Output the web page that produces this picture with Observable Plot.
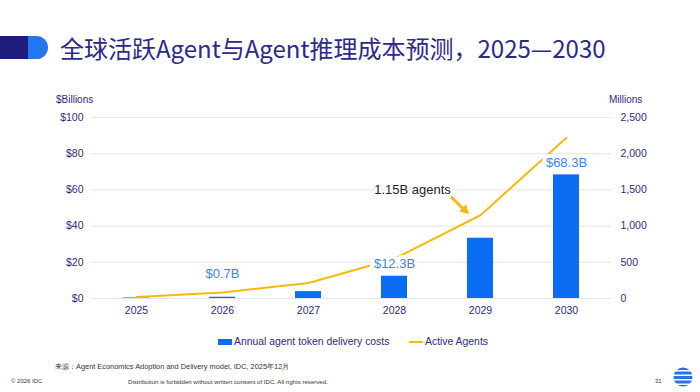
<!DOCTYPE html>
<html>
<head>
<meta charset="utf-8">
<script src="https://cdn.jsdelivr.net/npm/d3@7"></script>
<script src="https://cdn.jsdelivr.net/npm/@observablehq/plot@0.6"></script>
<style>
  html, body { margin: 0; padding: 0; }
  body { width: 700px; height: 392px; overflow: hidden; position: relative; background: #fff;
         font-family: "Liberation Sans", Arial, sans-serif; color: #2b2b83; }
  .abs { position: absolute; white-space: nowrap; }
  #pillBlue { left: 0; top: 36px; width: 48px; height: 23px; border-radius: 12px; background: #2277f0; }
  #pillNavy { left: 0; top: 36px; width: 28px; height: 23px; background: #1f1d7c; }
  #title { left: 60px; top: 33px; font-family: "Noto Sans CJK SC", sans-serif; font-size: 24px; line-height: 30px; color: #2c2a88; }
  #chart { position: absolute; left: 0; top: 80px; }
  .unit { font-size: 10px; line-height: 12px; top: 94px; color: #2b2b83; }
  .leg { font-size: 10.4px; line-height: 12px; top: 336px; color: #2b2b83; }
  .src { font-family: "Liberation Sans Narrow", "Liberation Sans", Arial, sans-serif; color: #333; }
</style>
</head>
<body>
<div id="pillBlue" class="abs"></div>
<div id="pillNavy" class="abs"></div>
<div id="title" class="abs">全球活跃Agent与Agent推理成本预测，2025—2030</div>
<div class="abs unit" style="left:56px">$Billions</div>
<div class="abs unit" style="left:609px">Millions</div>
<div id="chart"></div>
<div class="abs" style="left:218px;top:339px;width:14px;height:6px;background:#0b6cf4"></div>
<div class="abs leg" style="left:234px">Annual agent token delivery costs</div>
<div class="abs" style="left:409px;top:341px;width:14px;height:2px;background:#f9b90c"></div>
<div class="abs leg" style="left:425px">Active Agents</div>
<div class="abs src" style="left:55px;top:362px;font-size:7.4px;">来源：Agent Economics Adoption and Delivery model, IDC, 2025年12月</div>
<div class="abs src" style="left:11px;top:378px;font-size:6px;">© 2026 IDC</div>
<div class="abs src" style="left:128px;top:378px;font-size:6.1px;">Distribution is forbidden without written consent of IDC. All rights reserved.</div>
<div class="abs src" style="left:655px;top:378px;font-size:6px;">31</div>
<svg class="abs" style="left:673px;top:367px" width="20" height="20" viewBox="0 0 20 20">
  <defs><clipPath id="c"><circle cx="10" cy="10" r="9.5"/></clipPath></defs>
  <g clip-path="url(#c)" fill="#2f6fe6">
    <rect x="0" y="0" width="20" height="3"/>
    <rect x="0" y="4.5" width="20" height="3"/>
    <rect x="0" y="9" width="20" height="3"/>
    <rect x="0" y="13.5" width="20" height="3"/>
    <rect x="0" y="18" width="20" height="2"/>
  </g>
</svg>
<script>
// ---- data ----
const years = ["2025", "2026", "2027", "2028", "2029", "2030"];
const costs = [0.3, 0.7, 3.8, 12.3, 33.3, 68.3];          // $ billions
const agents = [22, 83, 215, 550, 1150, 2220];             // millions
const leftTicks = [0, 20, 40, 60, 80, 100];
const rightTicks = [0, 500, 1000, 1500, 2000, 2500];
const costLabelYears = ["2026", "2028", "2030"];
const costLabelTexts = ["$0.7B", "$12.3B", "$68.3B"];
const agentNoteYear = "2029";
const agentNoteText = "1.15B agents";

const ratio = rightTicks[rightTicks.length - 1] / leftTicks[leftTicks.length - 1]; // 25

const rows = years.map((y, i) => ({year: y, cost: costs[i], agents: agents[i]}));
const labelRows = costLabelYears.map((y, i) => ({year: y, cost: costs[years.indexOf(y)], text: costLabelTexts[i]}));
const noteRow = rows.filter(d => d.year === agentNoteYear).map(d => ({...d, text: agentNoteText}));

const navy = "#2b2b83";
const blue = "#0b6cf4";
const gold = "#f9b90c";

const arrowMark = (index, scales, values, dims) => {
  const sx = scales.x, sy = scales.y;
  let px = sx(agentNoteYear);
  if (typeof sx.bandwidth === "function") px += sx.bandwidth() / 2;
  else if (typeof sx.bandwidth === "number") px += sx.bandwidth / 2;
  const py = sy(noteRow[0].agents / ratio);
  const g = d3.create("svg:g");
  const x1 = px - 29, y1 = py - 18, x2 = px - 16, y2 = py - 5;
  g.append("line").attr("x1", x1).attr("y1", y1).attr("x2", x2).attr("y2", y2)
    .attr("stroke", gold).attr("stroke-width", 3);
  const ang = Math.atan2(y2 - y1, x2 - x1);
  const tipx = px - 11, tipy = py - 0.5;
  const L = 9, W = 5;
  const bx = tipx - L * Math.cos(ang), by = tipy - L * Math.sin(ang);
  const pts = [[tipx, tipy], [bx + W * Math.sin(ang), by - W * Math.cos(ang)], [bx - W * Math.sin(ang), by + W * Math.cos(ang)]];
  g.append("path").attr("d", "M" + pts.map(p => p.join(",")).join("L") + "Z").attr("fill", gold);
  return g.node();
};

const chart = Plot.plot({
  width: 700,
  height: 245,
  marginLeft: 91,
  marginRight: 89,
  marginTop: 37,
  marginBottom: 27,
  style: {fontFamily: "'Liberation Sans', Arial, sans-serif", fontSize: "10.5px", color: navy, background: "transparent"},
  x: {type: "band", domain: years, paddingInner: 0.7, paddingOuter: 0.35, label: null},
  y: {domain: [0, 100], label: null},
  marks: [
    Plot.gridY(leftTicks, {stroke: "#e4e4e4", strokeOpacity: 1}),
    Plot.axisY(leftTicks, {anchor: "left", tickSize: 0, tickPadding: 8, tickFormat: d => "$" + d, label: null, fill: navy}),
    Plot.axisY(rightTicks.map(v => v / ratio), {anchor: "right", tickSize: 0, tickPadding: 9, tickFormat: d => d3.format(",")(Math.round(d * ratio)), label: null, fill: navy}),
    Plot.axisX({tickSize: 0, tickPadding: 8, label: null, fill: navy}),
    Plot.barY(rows, {x: "year", y: "cost", fill: blue}),
    Plot.line(rows, {x: "year", y: d => d.agents / ratio, stroke: gold, strokeWidth: 2}),
    Plot.text(labelRows.filter(d => d.year === "2026"), {x: "year", y: "cost", text: "text", dy: -23, fill: "#3a85f2", fontSize: 13}),
    Plot.text(labelRows.filter(d => d.year !== "2026"), {x: "year", y: "cost", text: "text", dy: -12, fill: "#3a85f2", fontSize: 13, stroke: "white", strokeWidth: 8}),
    Plot.text(noteRow, {x: "year", y: d => d.agents / ratio, text: "text", dx: -68, dy: -25, fill: "#222", fontSize: 13, stroke: "white", strokeWidth: 4}),
    arrowMark
  ]
});
document.getElementById("chart").appendChild(chart);
</script>
</body>
</html>
